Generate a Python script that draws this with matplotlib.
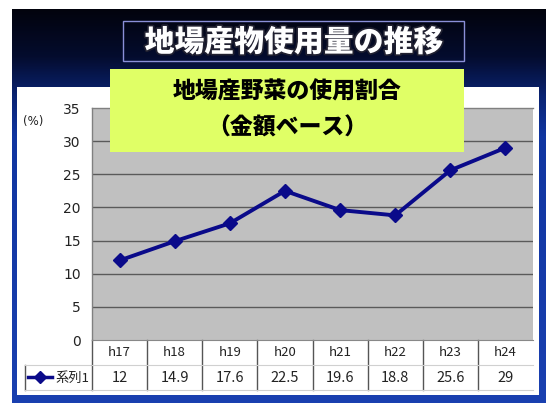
import matplotlib
matplotlib.use('Agg')
import matplotlib.pyplot as plt
import matplotlib.patheffects as pe
from matplotlib.colors import LinearSegmentedColormap
from matplotlib.patches import Rectangle
import numpy as np

plt.rcParams['font.family'] = ['Noto Sans CJK JP', 'DejaVu Sans']

# data
categories = ['h17', 'h18', 'h19', 'h20', 'h21', 'h22', 'h23', 'h24']
values = [12, 14.9, 17.6, 22.5, 19.6, 18.8, 25.6, 29]
value_labels = ['12', '14.9', '17.6', '22.5', '19.6', '18.8', '25.6', '29']
series_name = '系列1'
yticks = [0, 5, 10, 15, 20, 25, 30, 35]

W, H = 546, 405
fig = plt.figure(figsize=(W / 100, H / 100), dpi=100)
fig.patch.set_facecolor('white')

# background layer in pixel coordinates
bg = fig.add_axes([0, 0, 1, 1], zorder=0)
bg.set_xlim(0, W)
bg.set_ylim(H, 0)
bg.axis('off')

cmap = LinearSegmentedColormap.from_list(
    'slide', [(0, '#02030d'), (0.12, '#040c2e'), (0.22, '#0a2372'),
              (0.32, '#1035a0'), (1, '#1a40b0')])
grad = np.linspace(0, 1, 256).reshape(-1, 1)
bg.imshow(grad, extent=(12, W, 403, 9), cmap=cmap, aspect='auto', zorder=0)

# white chart panel
bg.add_patch(Rectangle((17, 87), 522, 308, facecolor='white', edgecolor='none', zorder=1))

# title box
bg.add_patch(Rectangle((123, 21), 341, 40, facecolor='none', edgecolor='#8a8fd8', lw=1.0, zorder=2))
bg.text(294, 42, '地場産物使用量の推移', color='white', fontsize=21.5, fontweight='heavy',
        ha='center', va='center', zorder=3,
        path_effects=[pe.withStroke(linewidth=2.5, foreground='#202030')])

bg.text(33, 121, '(%)', color='#222222', fontsize=8.5, ha='center', va='center', zorder=3,
        family=['Liberation Sans Narrow', 'DejaVu Sans'])

# plot area
x0, y0, x1, y1 = 92, 108, 533, 340
ax = fig.add_axes([x0 / W, 1 - y1 / H, (x1 - x0) / W, (y1 - y0) / H], zorder=1)
ax.set_facecolor('#c0c0c0')
xs = np.arange(len(categories))
ax.plot(xs, values, color='#0a0a8a', lw=2.8, marker='D', ms=7, mec='#0a0a8a', zorder=4)
ax.set_xlim(-0.5, len(categories) - 0.5)
ax.set_ylim(0, 35)
ax.set_yticks(yticks)
ax.set_yticklabels([str(t) for t in yticks], family=['Liberation Sans Narrow', 'DejaVu Sans'],
                   fontsize=10, color='#222222')
ax.tick_params(axis='y', length=0, pad=8)
ax.set_xticks([])
for t in yticks[1:-1]:
    ax.axhline(t, color='#5a5a5a', lw=1.0, zorder=1)
for side in ['top', 'left']:
    ax.spines[side].set_color('#808080')
    ax.spines[side].set_linewidth(1.0)
ax.spines['right'].set_visible(False)
ax.spines['bottom'].set_color('#888888')

# data table under the plot
r1 = -25 / (y1 - y0)
r2 = -50 / (y1 - y0)
tr = ax.get_xaxis_transform()
tfont = ['Liberation Sans Narrow', 'Noto Sans CJK JP']
for i, (c, v) in enumerate(zip(categories, value_labels)):
    ax.text(i, r1 / 2, c, transform=tr, ha='center', va='center', fontsize=9.5,
            color='#222222', family=tfont, clip_on=False)
    ax.text(i, (r1 + r2) / 2, v, transform=tr, ha='center', va='center', fontsize=10.5,
            color='#222222', family=tfont, clip_on=False)
for i in range(len(categories)):
    xb = i - 0.5
    ax.plot([xb, xb], [0, r2], transform=tr, color='#555555', lw=1.0, clip_on=False)
ax.plot([-0.5, len(categories) - 0.5], [r1, r1], transform=tr, color='#d0d0d0', lw=0.8, clip_on=False)
ax.plot([-0.5, len(categories) - 0.5], [r2, r2], transform=tr, color='#d0d0d0', lw=0.8, clip_on=False)

# legend cell
bg.plot([25, 25], [365, 390], color='#555555', lw=1.0, zorder=4)
bg.plot([25, 92], [365, 365], color='#d0d0d0', lw=0.8, zorder=4)
bg.plot([25, 92], [390, 390], color='#d0d0d0', lw=0.8, zorder=4)
bg.plot([28, 52], [377, 377], color='#0a0a8a', lw=2.5, zorder=4)
bg.plot([40], [377], marker='D', ms=6, color='#0a0a8a', zorder=4)
bg.text(72, 378, series_name, ha='center', va='center', fontsize=9.5, color='#222222', zorder=4,
        family=['Noto Sans CJK JP', 'DejaVu Sans'])

# green label box on top of the plot
top = fig.add_axes([0, 0, 1, 1], zorder=5)
top.set_xlim(0, W)
top.set_ylim(H, 0)
top.axis('off')
top.patch.set_alpha(0)
top.add_patch(Rectangle((110, 69), 354, 83, facecolor='#e0ff66', edgecolor='none'))
top.text(287, 92, '地場産野菜の使用割合', color='black', fontsize=16.5, fontweight='heavy',
         ha='center', va='center')
top.text(287, 128, '（金額ベース）', color='black', fontsize=16.5, fontweight='heavy',
         ha='center', va='center')

fig.savefig('out.png', dpi=100)
